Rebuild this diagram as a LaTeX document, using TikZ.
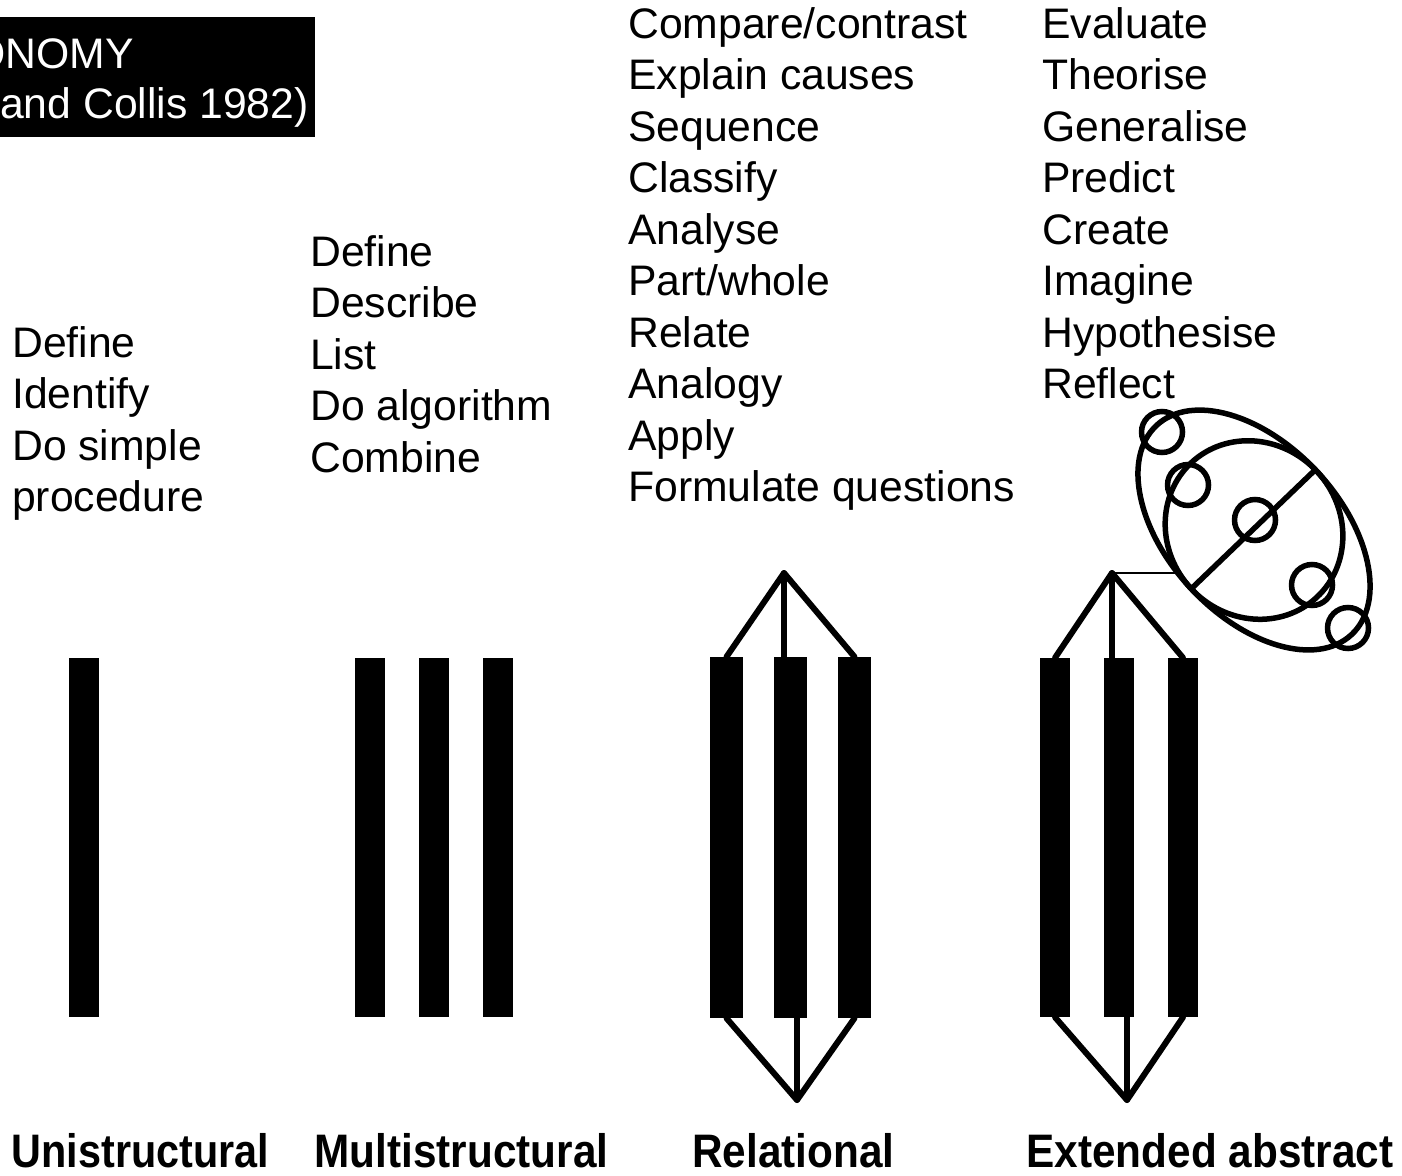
\documentclass[tikz,border=0pt]{standalone}
\usepackage{fontspec}
\setmainfont{Liberation Sans}
\begin{document}
\begin{tikzpicture}[x=1pt,y=-1pt,
  txt/.style={inner sep=0pt, anchor=base west, font=\fontsize{42.7}{50}\selectfont},
  lab/.style={inner sep=0pt, anchor=base, font=\fontsize{47}{56}\selectfont\bfseries},
  bar/.style={fill=black, draw=none, inner sep=0pt, minimum height=359pt},
  ln/.style={line width=6pt, line cap=round, line join=round},
  ring/.style={line width=5.5pt}]
\path[fill=white, use as bounding box] (0,0) rectangle (1402,1175);
\begin{scope}
\clip (0,0) rectangle (1402,1175);
\fill[black] (-10,17) rectangle (315,137);
\node[txt, text=white] (t1) at (-28,68) {ONOMY};
\node[txt, text=white] (t2) at (0,118) {and Collis 1982)};
\end{scope}
% verb columns
\foreach \t [count=\i from 0] in {Define,Identify,Do simple,procedure}
  \node[txt] (a\i) at (12,{357+51.5*\i}) {\t};
\foreach \t [count=\i from 0] in {Define,Describe,List,Do algorithm,Combine}
  \node[txt] (b\i) at (310,{266+51.5*\i}) {\t};
\foreach \t [count=\i from 0] in {Compare/contrast,Explain causes,Sequence,Classify,Analyse,Part/whole,Relate,Analogy,Apply,Formulate questions}
  \node[txt] (c\i) at (628,{38+51.5*\i}) {\t};
\foreach \t [count=\i from 0] in {Evaluate,Theorise,Generalise,Predict,Create,Imagine,Hypothesise,Reflect}
  \node[txt] (d\i) at (1042,{38+51.5*\i}) {\t};
% bars
\node[bar, minimum width=30pt] (u1) at (84,837.5) {};
\node[bar, minimum width=30pt] (m1) at (370,837.5) {};
\node[bar, minimum width=30pt] (m2) at (433.5,837.5) {};
\node[bar, minimum width=30pt] (m3) at (498,837.5) {};
\node[bar, minimum width=33pt, minimum height=361pt] (r1) at (726.5,837.5) {};
\node[bar, minimum width=33pt, minimum height=361pt] (r2) at (790.5,837.5) {};
\node[bar, minimum width=33pt, minimum height=361pt] (r3) at (854.5,837.5) {};
\node[bar, minimum width=30pt] (e1) at (1055,837.5) {};
\node[bar, minimum width=30pt] (e2) at (1119,837.5) {};
\node[bar, minimum width=30pt] (e3) at (1183,837.5) {};
% relational connectors
\coordinate (rt) at (784,573);
\coordinate (rb) at (797,1100);
\draw[ln] (r1.north) -- (rt) -- (r3.north);
\draw[ln] (rt) -- ([xshift=-6.5pt]r2.north);
\draw[ln] (r1.south) -- (rb) -- (r3.south);
\draw[ln] (rb) -- ([xshift=6.5pt]r2.south);
% extended abstract connectors
\coordinate (et) at (1112,573);
\coordinate (eb) at (1127,1100);
\coordinate (ej) at (1180,573);
\draw[ln] (e1.north) -- (et) -- (e3.north);
\draw[ln] (et) -- ([xshift=-7pt]e2.north);
\draw[ln] (e1.south) -- (eb) -- (e3.south);
\draw[ln] (eb) -- ([xshift=8pt]e2.south);
\draw[line width=2pt] (et) -- (ej);
% ellipses
\coordinate (oc) at (1254,530);
\draw[ring, rotate around={-47:(oc)}] (oc) ellipse [x radius=143pt, y radius=86pt];
\draw[ring, rotate around={-47:(oc)}] (oc) ellipse [x radius=92pt, y radius=86pt];
\coordinate (d1) at (1191,589);
\coordinate (d2) at (1315,470);
\draw[ring] (d1) -- (d2);
\foreach \p in {(1162,432),(1188,485),(1255,520),(1312,585),(1348,628)}
  \draw[ring] \p circle [radius=20.5pt];
% level labels
\node[lab] (l1) at (140.5,1167) {\scalebox{0.88}[1]{Unistructural}};
\node[lab] (l2) at (461.5,1167) {\scalebox{0.9}[1]{Multistructural}};
\node[lab] (l3) at (793.5,1167) {\scalebox{0.9}[1]{Relational}};
\node[lab] (l4) at (1210,1167) {\scalebox{0.9}[1]{Extended abstract}};
\end{tikzpicture}
\end{document}
